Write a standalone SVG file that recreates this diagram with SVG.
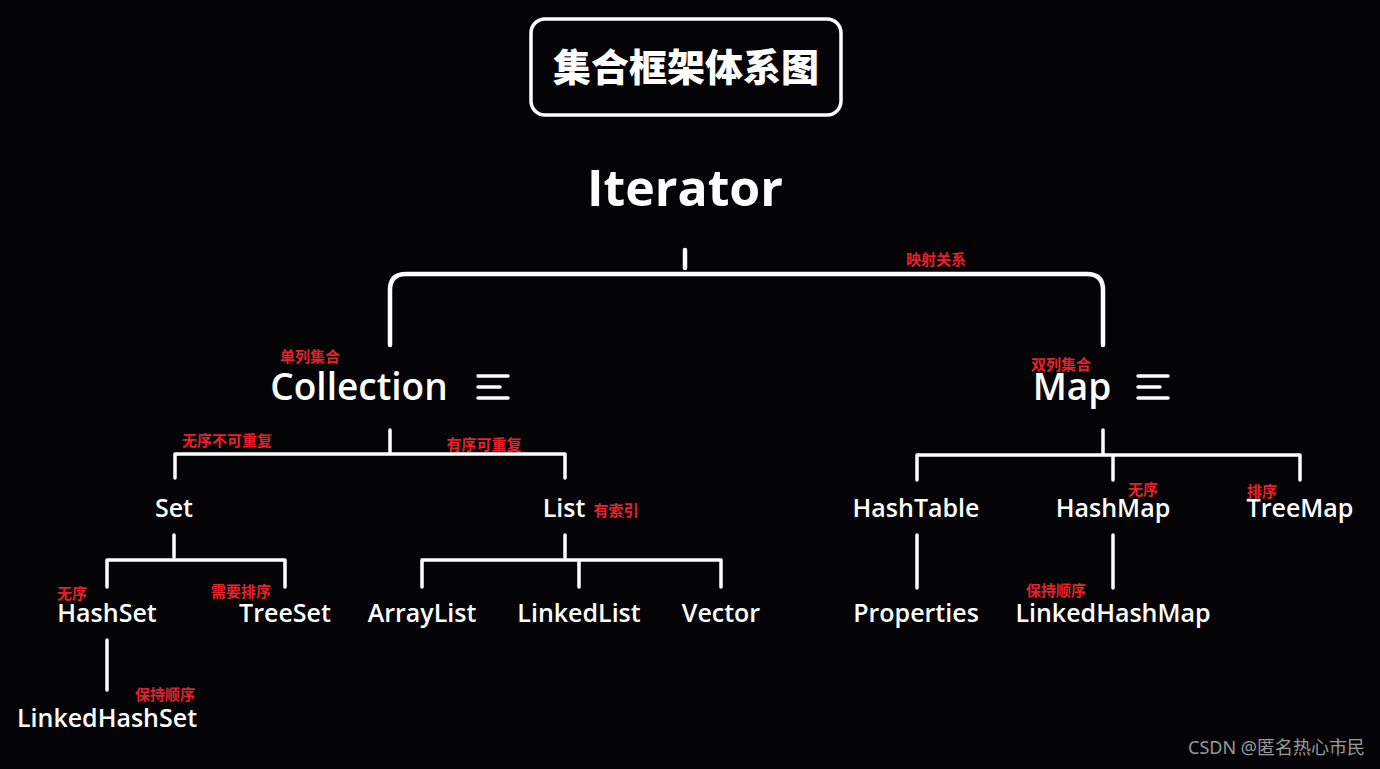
<svg xmlns="http://www.w3.org/2000/svg" width="1380" height="769" viewBox="0 0 1380 769">
<style>
.w{fill:#fff;font-family:"Open Sans","Noto Sans",sans-serif;text-anchor:middle}
.n{font-size:25px;font-weight:600}
.r{fill:#e8202a;font-family:"Noto Sans CJK SC",sans-serif;font-size:15px;font-weight:700;text-anchor:middle}
.l{fill:none;stroke:#fff;stroke-width:3.5;stroke-linecap:round;stroke-linejoin:round}
.t{stroke-width:4.5}
</style>
<rect width="1380" height="769" fill="#040406"/>
<g id="title"><rect x="531" y="19" width="310" height="96" rx="14" fill="none" stroke="#fff" stroke-width="3.5"/>
<text x="686" y="81" class="w" style="font-family:'Noto Sans CJK SC',sans-serif;font-size:38px;font-weight:900">集合框架体系图</text></g>
<g id="iterator"><text x="685" y="206" class="w" style="font-size:50px;font-weight:700">Iterator</text></g>
<g id="connectors">
<path class="l t" d="M685 250V268M390 345V290Q390 274 406 274H1087Q1103 274 1103 290V345"/>
<path class="l" d="M390 430V454M175 478V454H565V478"/>
<path class="l" d="M174 535V557M107 587V560H285V587"/>
<path class="l" d="M107 640V690"/>
<path class="l" d="M565 535V557M422 587V560H721V587M579 560V587"/>
<path class="l" d="M1103 430V455M917 480V455H1300V480M1113 455V480"/>
<path class="l" d="M917 535V588M1113 535V588"/>
</g>
<g id="collection"><text x="359" y="400" class="w" style="font-size:37px;font-weight:600">Collection</text>
<path class="l" d="M478 376H508M478 387H500M478 398H508"/></g>
<g id="map"><text x="1072" y="400" class="w" style="font-size:37px;font-weight:600">Map</text>
<path class="l" d="M1138 376H1168M1138 387H1160M1138 398H1168"/></g>
<g id="set"><text x="174" y="517" class="w n">Set</text></g>
<g id="list"><text x="564" y="517" class="w n">List</text></g>
<g id="hashset"><text x="107" y="622" class="w n">HashSet</text></g>
<g id="treeset"><text x="285" y="622" class="w n">TreeSet</text></g>
<g id="linkedhashset"><text x="107" y="727" class="w n">LinkedHashSet</text></g>
<g id="arraylist"><text x="422" y="622" class="w n">ArrayList</text></g>
<g id="linkedlist"><text x="579" y="622" class="w n">LinkedList</text></g>
<g id="vector"><text x="721" y="622" class="w n">Vector</text></g>
<g id="hashtable"><text x="916" y="517" class="w n">HashTable</text></g>
<g id="hashmap"><text x="1113" y="517" class="w n">HashMap</text></g>
<g id="treemap"><text x="1300" y="517" class="w n">TreeMap</text></g>
<g id="properties"><text x="916" y="622" class="w n">Properties</text></g>
<g id="linkedhashmap"><text x="1113" y="622" class="w n">LinkedHashMap</text></g>
<g id="labels">
<text x="936" y="265" class="r">映射关系</text>
<text x="310" y="362" class="r">单列集合</text>
<text x="1061" y="370" class="r">双列集合</text>
<text x="227" y="446" class="r">无序不可重复</text>
<text x="484" y="450" class="r">有序可重复</text>
<text x="616" y="516" class="r">有索引</text>
<text x="72" y="599" class="r">无序</text>
<text x="241" y="597" class="r">需要排序</text>
<text x="165" y="700" class="r">保持顺序</text>
<text x="1143" y="495" class="r">无序</text>
<text x="1262" y="497" class="r">排序</text>
<text x="1056" y="596" class="r">保持顺序</text>
</g>
<text x="1365" y="754" style="fill:#9a9a9a;font-family:'Noto Sans','Noto Sans CJK SC',sans-serif;font-size:18px;text-anchor:end">CSDN @匿名热心市民</text>
</svg>
